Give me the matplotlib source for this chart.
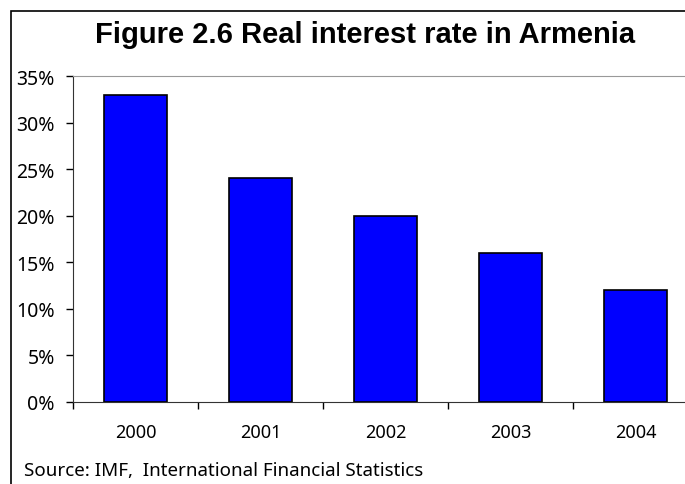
import matplotlib.pyplot as plt
from matplotlib.patches import Rectangle
from matplotlib.ticker import FuncFormatter
import numpy as np

years = ['2000', '2001', '2002', '2003', '2004']
rates = [33, 24, 20, 16, 12]
yticks = [0, 5, 10, 15, 20, 25, 30, 35]

W, H = 685, 485
fig = plt.figure(figsize=(W / 100, H / 100), dpi=100)
plt.rcParams['font.family'] = ['Noto Sans', 'DejaVu Sans']

# outer frame of the chart (runs off the right/bottom edge like the original)
fig.patches.append(Rectangle((11 / W, -0.05), 1.2, 1 - 12 / H + 0.05,
                             transform=fig.transFigure, fill=False,
                             edgecolor='black', linewidth=1.2))

ax = fig.add_axes([73 / W, 1 - 403 / H, 625 / W, 326 / H])
x = np.arange(len(years))
ax.bar(x, rates, width=0.5, color='#0000ff', edgecolor='black', linewidth=1.2)

ax.set_xlim(-0.5, len(years) - 0.5)
ax.set_ylim(0, 35)
ax.set_yticks(yticks)
ax.yaxis.set_major_formatter(FuncFormatter(lambda v, p: f'{v:.0f}%'))
ax.set_xticks(x)
ax.set_xticklabels(years)
ax.set_xticks(np.arange(len(years) + 1) - 0.5, minor=True)
ax.tick_params(axis='x', which='major', length=0, pad=15, labelsize=13)
ax.tick_params(axis='x', which='minor', length=5, width=1)
ax.tick_params(axis='y', length=5, width=1, labelsize=14, pad=8)

ax.spines['top'].set_color('#999999')
ax.spines['right'].set_visible(False)
ax.spines['left'].set_color('#333333')
ax.spines['bottom'].set_color('#333333')

fig.text(365 / W, 1 - 35 / H, 'Figure 2.6 Real interest rate in Armenia',
         ha='center', va='center', fontsize=21, fontweight='bold',
         family=['Liberation Sans', 'DejaVu Sans'])
fig.text(24 / W, 1 - 471 / H, 'Source: IMF,  International Financial Statistics',
         ha='left', va='center', fontsize=13.5)

fig.savefig('out.png', dpi=100)
